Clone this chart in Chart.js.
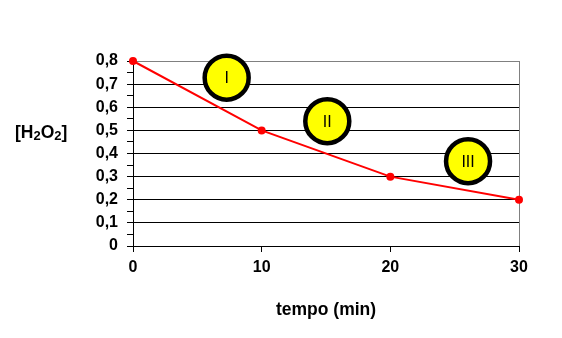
<!DOCTYPE html>
<html><head><meta charset="utf-8">
<script src="https://cdn.jsdelivr.net/npm/chart.js@4/dist/chart.umd.min.js"></script>
<style>html,body{margin:0;padding:0;background:#fff}#wrap{width:562px;height:338px}</style>
</head><body><div id="wrap"><canvas id="c"></canvas></div>
<script>
const times = [0, 10, 20, 30];
const concentration = [0.8, 0.5, 0.3, 0.2];
const phaseX = [7.28, 15.1, 26.04];
const phaseY = [0.728, 0.54, 0.367];
const phaseLabels = ['I', 'II', 'III'];
const yTickLabels = ['0', '0,1', '0,2', '0,3', '0,4', '0,5', '0,6', '0,7', '0,8'];
const xTitle = 'tempo (min)';
const yTitleParts = [['[H', false], ['2', true], ['O', false], ['2', true], [']', false]];

const FONT = "'Liberation Sans', Arial, sans-serif";

const yTitlePlugin = {
  id: 'yTitle',
  afterDraw(chart) {
    const ctx = chart.ctx;
    ctx.save();
    ctx.fillStyle = '#000';
    ctx.textBaseline = 'alphabetic';
    ctx.textAlign = 'left';
    let x = 15;
    const base = 138;
    for (const [t, sub] of yTitleParts) {
      ctx.font = sub ? `bold 13px ${FONT}` : `bold 17.5px ${FONT}`;
      ctx.fillText(t, x, sub ? base + 2 : base);
      x += ctx.measureText(t).width;
    }
    ctx.restore();
  }
};

const phaseLabelPlugin = {
  id: 'phaseLabels',
  afterDatasetsDraw(chart) {
    const meta = chart.getDatasetMeta(1);
    const ctx = chart.ctx;
    ctx.save();
    ctx.fillStyle = '#000';
    ctx.font = `16px ${FONT}`;
    ctx.textAlign = 'center';
    ctx.textBaseline = 'middle';
    meta.data.forEach((el, i) => ctx.fillText(phaseLabels[i], el.x, el.y + 1));
    ctx.restore();
  }
};

new Chart(document.getElementById('c'), {
  type: 'scatter',
  data: {
    datasets: [
      {
        data: times.map((t, i) => ({x: t, y: concentration[i]})),
        showLine: true,
        borderColor: '#ff0000',
        backgroundColor: '#ff0000',
        borderWidth: 2,
        pointRadius: 3,
        pointHoverRadius: 3,
        clip: false,
        order: 2
      },
      {
        data: phaseX.map((x, i) => ({x: x, y: phaseY[i]})),
        showLine: false,
        backgroundColor: '#ffff00',
        borderColor: '#000000',
        pointRadius: 22,
        pointHoverRadius: 22,
        pointBorderWidth: 4.5,
        pointHoverBorderWidth: 4.5,
        clip: false,
        order: 1
      }
    ]
  },
  options: {
    responsive: true,
    maintainAspectRatio: false,
    animation: false,
    events: [],
    layout: {padding: {left: 0, right: 43, top: 61, bottom: 0}},
    plugins: {legend: {display: false}, tooltip: {enabled: false}},
    scales: {
      x: {
        type: 'linear', min: 0, max: 30,
        afterFit(s) { s.height = 92; },
        ticks: {stepSize: 10, color: '#000', padding: 6, font: {family: FONT, size: 16, weight: 'bold'}},
        grid: {
          color: c => (c.tick && c.tick.value === 30) ? '#808080' : 'rgba(0,0,0,0)',
          tickColor: '#000', tickLength: 6, lineWidth: 1
        },
        border: {color: '#000', width: 1},
        title: {display: true, text: xTitle, color: '#000', padding: {top: 0, bottom: 17},
          font: {family: FONT, size: 17.5, weight: 'bold'}}
      },
      y: {
        type: 'linear', min: 0, max: 0.8,
        afterFit(s) { s.width = 133; },
        ticks: {
          stepSize: 0.05, autoSkip: false, color: '#000', padding: 9,
          font: {family: FONT, size: 16, weight: 'bold'},
          callback: (v, i) => (i % 2 === 0 ? yTickLabels[i / 2] : '')
        },
        grid: {
          color: c => {
            if (!c.tick) return 'rgba(0,0,0,0)';
            if (c.index % 2 === 1) return 'rgba(0,0,0,0)';
            if (Math.abs(c.tick.value - 0.8) < 1e-6) return '#808080';
            return '#000';
          },
          tickColor: '#000', tickLength: 6, lineWidth: 1
        },
        border: {color: '#000', width: 1}
      }
    }
  },
  plugins: [yTitlePlugin, phaseLabelPlugin]
});
</script>
</body></html>
